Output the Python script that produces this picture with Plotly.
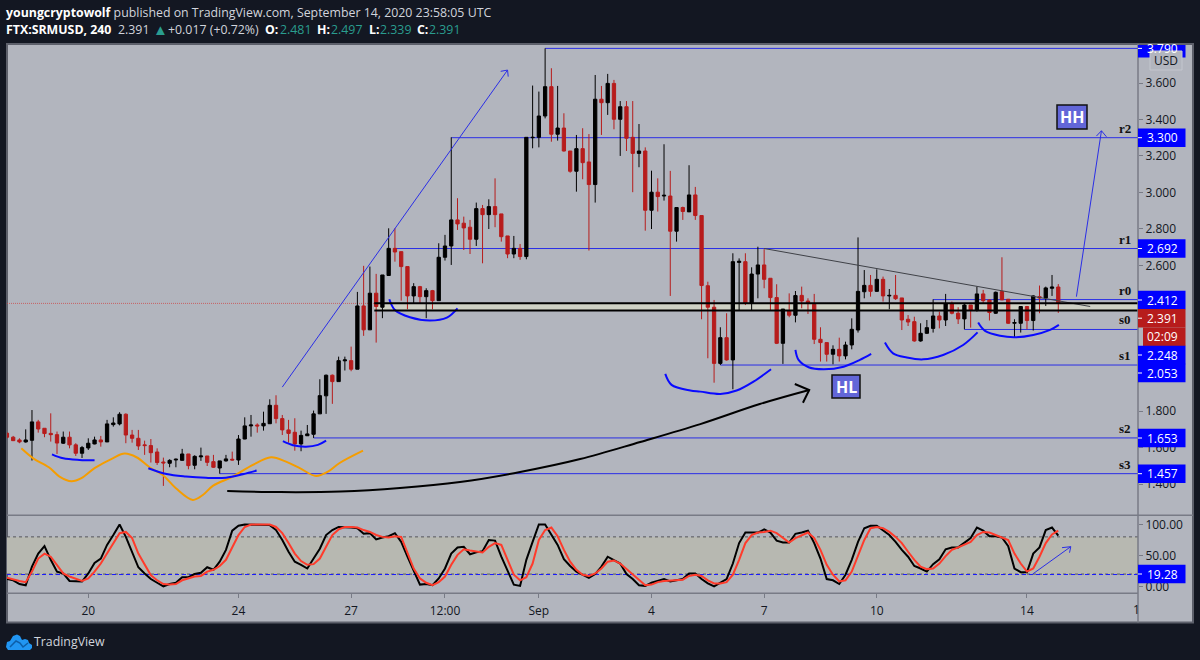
import pandas as pd
import plotly.graph_objects as go

# ---------- price data (4h candles, FTX:SRMUSD) ----------
opens = [
 1.679,1.657,1.642,1.631,1.640,1.741,1.706,1.678,1.671,1.624,
 1.657,1.615,1.569,1.598,1.620,1.642,1.631,1.726,1.730,1.783,
 1.669,1.651,1.615,1.611,1.576,1.521,1.514,1.532,1.530,1.565,
 1.503,1.549,1.554,1.523,1.488,1.527,1.536,1.532,1.647,1.719,
 1.724,1.719,1.731,1.832,1.759,1.697,1.684,1.620,1.665,1.673,
 1.785,1.884,1.997,1.962,2.076,2.077,2.030,2.377,2.246,2.447,
 2.370,2.544,2.693,2.675,2.593,2.432,2.483,2.428,2.461,2.406,
 2.644,2.706,2.849,2.831,2.809,2.743,2.911,2.878,2.922,2.882,
 2.761,2.662,2.693,2.648,3.300,3.302,3.419,3.580,3.319,3.353,
 3.227,3.116,3.240,3.167,3.043,3.511,3.492,3.598,3.401,3.470,
 3.302,3.214,3.227,2.902,3.001,2.980,2.980,2.787,2.917,2.893,
 2.986,2.873,2.488,2.370,2.062,2.203,2.081,2.616,2.620,2.391,
 2.552,2.602,2.529,2.423,2.172,2.351,2.326,2.435,2.404,2.386,
 2.194,2.176,2.112,2.139,2.103,2.163,2.245,2.455,2.490,2.457,
 2.523,2.432,2.435,2.421,2.304,2.291,2.185,2.227,2.254,2.322,
 2.300,2.388,2.337,2.306,2.382,2.352,2.443,2.410,2.337,2.456,
 2.414,2.282,2.282,2.374,2.297,2.428,2.421,2.474,2.481]
highs = [
 1.682,1.664,1.651,1.700,1.806,1.752,1.706,1.788,1.688,1.688,
 1.688,1.624,1.609,1.651,1.660,1.664,1.752,1.766,1.794,1.788,
 1.697,1.697,1.638,1.647,1.596,1.545,1.536,1.540,1.593,1.565,
 1.558,1.600,1.554,1.560,1.527,1.560,1.578,1.669,1.766,1.779,
 1.733,1.797,1.865,1.887,1.779,1.752,1.761,1.693,1.724,1.803,
 1.975,2.001,2.001,2.099,2.099,2.154,2.454,2.597,2.593,2.553,
 2.547,2.803,2.803,2.675,2.593,2.502,2.487,2.474,2.465,2.721,
 2.767,3.302,2.968,2.867,2.849,2.944,2.931,2.962,3.077,2.882,
 2.761,2.761,2.717,3.302,3.586,3.553,3.790,3.681,3.584,3.434,
 3.227,3.315,3.352,3.320,3.644,3.584,3.650,3.617,3.501,3.501,
 3.501,3.375,3.247,3.119,3.077,3.264,3.118,2.917,2.922,3.149,
 3.030,2.873,2.510,2.410,2.260,2.337,2.666,2.638,2.666,2.589,
 2.702,2.688,2.529,2.496,2.360,2.446,2.459,2.483,2.419,2.443,
 2.260,2.176,2.161,2.203,2.181,2.309,2.753,2.574,2.547,2.578,
 2.538,2.470,2.547,2.421,2.327,2.318,2.282,2.300,2.413,2.346,
 2.443,2.401,2.370,2.391,2.382,2.483,2.465,2.414,2.456,2.644,
 2.414,2.304,2.374,2.377,2.436,2.489,2.483,2.547,2.497]
lows = [
 1.651,1.636,1.624,1.627,1.529,1.682,1.657,1.633,1.565,1.620,
 1.596,1.554,1.543,1.587,1.618,1.605,1.631,1.715,1.722,1.624,
 1.627,1.587,1.560,1.518,1.505,1.390,1.492,1.492,1.529,1.481,
 1.481,1.527,1.499,1.488,1.457,1.523,1.530,1.505,1.646,1.660,
 1.682,1.693,1.730,1.733,1.669,1.627,1.583,1.580,1.664,1.653,
 1.785,1.785,1.840,1.962,2.023,2.019,2.030,2.213,2.246,2.176,
 2.310,2.542,2.620,2.406,2.359,2.392,2.392,2.310,2.359,2.406,
 2.626,2.602,2.794,2.684,2.662,2.706,2.611,2.799,2.809,2.730,
 2.639,2.639,2.630,2.633,3.242,3.247,3.406,3.278,3.284,3.224,
 3.108,3.004,3.072,2.681,2.944,3.315,3.425,3.346,3.200,3.227,
 3.001,3.138,2.790,2.799,2.895,2.955,2.432,2.730,2.849,2.893,
 2.849,2.304,2.090,1.956,2.053,2.077,1.920,2.355,2.382,2.355,
 2.419,2.474,2.355,2.168,2.059,2.315,2.287,2.364,2.333,2.168,
 2.072,2.072,2.057,2.072,2.084,2.139,2.231,2.419,2.428,2.455,
 2.401,2.359,2.410,2.245,2.267,2.181,2.181,2.223,2.231,2.254,
 2.267,2.331,2.278,2.249,2.258,2.346,2.388,2.297,2.333,2.410,
 2.278,2.205,2.231,2.249,2.242,2.337,2.377,2.432,2.339]
closes = [
 1.657,1.638,1.631,1.642,1.741,1.702,1.677,1.671,1.625,1.657,
 1.615,1.569,1.600,1.624,1.642,1.631,1.730,1.735,1.783,1.669,
 1.651,1.609,1.611,1.572,1.518,1.516,1.530,1.536,1.565,1.501,
 1.552,1.554,1.519,1.492,1.527,1.538,1.532,1.647,1.719,1.724,
 1.719,1.733,1.832,1.759,1.697,1.678,1.620,1.667,1.675,1.785,
 1.885,1.997,1.962,2.077,2.081,2.030,2.377,2.246,2.447,2.374,
 2.547,2.693,2.673,2.593,2.432,2.483,2.428,2.461,2.406,2.644,
 2.706,2.849,2.827,2.805,2.743,2.911,2.878,2.922,2.878,2.757,
 2.662,2.693,2.648,3.302,3.302,3.419,3.580,3.319,3.353,3.227,
 3.116,3.240,3.163,3.043,3.511,3.492,3.598,3.401,3.470,3.297,
 3.214,3.227,2.902,3.001,2.977,2.984,2.787,2.917,2.895,2.986,
 2.873,2.489,2.370,2.062,2.203,2.081,2.620,2.622,2.391,2.552,
 2.602,2.523,2.423,2.172,2.360,2.326,2.434,2.404,2.391,2.194,
 2.176,2.112,2.139,2.103,2.163,2.249,2.457,2.490,2.457,2.523,
 2.432,2.435,2.417,2.300,2.289,2.185,2.227,2.258,2.322,2.300,
 2.388,2.337,2.306,2.382,2.355,2.443,2.406,2.341,2.452,2.410,
 2.282,2.286,2.374,2.297,2.432,2.421,2.476,2.481,2.391]

# ---------- stochastic RSI ----------
stoch_k = [
 12,10,4,2,32,53,65,43,24,21, 9,9,8,21,38,45,67,83,100,80,
 56,31,21,12,6,0,4,6,15,15, 20,22,31,27,40,59,90,98,100,100,
 100,100,99,91,75,56,40,35,29,45, 61,83,91,96,96,95,94,85,86,76,
 79,81,86,72,48,24,3,4,2,13, 29,53,63,64,52,55,57,75,74,48,
 24,3,1,43,72,100,100,83,67,44, 33,24,19,14,20,32,48,43,37,20,
 12,2,1,6,9,12,8,10,12,21, 21,12,5,0,6,12,37,70,87,87,
 87,92,87,74,71,71,85,87,90,70, 45,12,10,4,19,43,72,94,98,98,
 91,83,72,59,48,33,29,24,36,44, 60,63,63,70,78,95,90,81,81,79,
 65,29,23,23,53,63,91,95,82]
stoch_d = [
 14,11,9,7,24,45,53,48,35,21, 16,12,9,13,24,37,53,70,86,88,
 78,53,35,18,10,4,3,4,10,13, 16,17,24,27,33,43,64,83,96,100,
 100,100,100,96,86,70,53,41,35,36, 45,64,83,92,96,96,95,91,88,83,
 80,79,81,80,56,29,13,6,2,7, 16,35,51,60,58,56,55,64,70,67,
 44,19,10,15,37,75,91,95,81,59, 40,27,19,17,21,29,40,42,37,28,
 20,10,2,3,7,9,10,10,11,17, 19,17,10,5,5,7,19,43,70,83,
 87,88,90,86,78,71,78,83,87,78, 59,35,19,8,10,24,48,75,94,96,
 94,88,80,70,56,43,32,28,29,37, 49,59,63,67,72,83,88,87,83,80,
 75,53,37,24,29,48,70,84,90]

# ---------- axis labels ----------
price_ticks = [3.6, 3.4, 3.2, 3.0, 2.8, 2.6, 1.8, 1.6, 1.4]
stoch_ticks = [100, 50, 0]
stoch_tick_text = ["100.00", "50.00", "0.00"]
time_ticks = ["2020-08-20", "2020-08-24", "2020-08-27", "2020-08-29 12:00",
              "2020-09-01", "2020-09-04", "2020-09-07", "2020-09-10", "2020-09-14"]
time_tick_text = ["20", "24", "27", "12:00", "Sep", "4", "7", "10", "14"]

# ---------- horizontal levels: value, first bar, letter ----------
level_values = [3.790, 3.300, 2.692, 2.412, 2.248, 2.053, 1.653, 1.457]
level_start = [86, 71, 62, 148, 153, 114, 49, 34]
level_letter = [None, "r2", "r1", "r0", "s0", "s1", "s2", "s3"]
band_top, band_bottom, band_start = 2.392, 2.352, 58.7
last_price = 2.391
stoch_level = 19.28

# ---------- hand drawings: (bar, value) ----------
orange_bar = [2.3,4.2,6.7,8.4,10.3,11.9,14.0,16.9,18.8,20.7,22.8,24.9,27.0,29.7,31.3,32.9,
              36.1,39.3,42.2,44.6,46.8,49.4,51.3,53.1,56.9]
orange_val = [1.596,1.541,1.492,1.441,1.415,1.432,1.487,1.541,1.567,1.547,1.492,1.450,1.377,
              1.313,1.340,1.390,1.441,1.505,1.547,1.523,1.487,1.444,1.468,1.514,1.583]
arcs = [
 ([7.2,9,11.6,14], [1.563,1.541,1.532,1.530]),
 ([22.6,25.5,28.6,31.8,35,37.7,39.9], [1.487,1.455,1.441,1.434,1.435,1.454,1.474]),
 ([44.1,45.7,47.8,49.7,51], [1.635,1.613,1.605,1.615,1.638]),
 ([61.1,62.0,64.4,67.6,70.3,72.0], [2.414,2.355,2.315,2.297,2.313,2.364]),
 ([105.2,106.2,109.2,110.8,114,116.6,119.3,122.1], [2.004,1.944,1.913,1.907,1.894,1.913,1.962,2.030]),
 ([126.0,126.5,128.1,130.5,133.7,136.3,138.1], [2.136,2.081,2.041,2.030,2.044,2.081,2.114]),
 ([140.3,141.6,143.8,146.4,149.6,152.8,155.1], [2.176,2.117,2.094,2.084,2.108,2.163,2.232]),
 ([155.2,156.3,158.7,161.1,164.0,166.7,168.1], [2.286,2.240,2.213,2.205,2.218,2.246,2.273]),
]
black_arc_bar = [35.2,43.7,53.3,62.8,72.4,82.0,91.6,101.2,110.8,120.3,128.2]
black_arc_val = [1.362,1.356,1.359,1.378,1.411,1.466,1.537,1.631,1.729,1.839,1.916]
black_head_bar = [125.9,128.2,127.2]
black_head_val = [1.949,1.916,1.846]
up_arrow_bar = [44, 80.0]
up_arrow_val = [1.932, 3.671]
up_head_bar = [78.9, 80.0, 80.1]
up_head_val = [3.664, 3.671, 3.635]
hh_arrow_bar = [170.9, 174.9]
hh_arrow_val = [2.428, 3.338]
hh_head_bar = [174.1, 174.9, 175.7]
hh_head_val = [3.309, 3.338, 3.305]
trend_bar = [121, 173.1]
trend_val = [2.692, 2.374]
stoch_arrow_bar = [163.9, 170.0]
stoch_arrow_val = [20, 64.2]
stoch_head_bar = [168.6, 170.0, 169.8]
stoch_head_val = [62.6, 64.2, 54.5]

# ---------- layout geometry (screen furniture) ----------
W, H = 1200, 660
PX_LEFT, PX_AXIS, PX_FRAME_R = 7, 1138, 1193
PY_TOP, PY_SPLIT, PY_LOW, PY_BOTTOM = 44, 515.3, 593.3, 622.5
BG, PANEL = "#131722", "#b2b5be"
BLUE, TAGBLUE, RED = "#2a2ee6", "#0000ff", "#b71c1c"
FONT = "Open Sans"

def X(px): return px / W
def Y(py): return 1 - py / H

START = pd.Timestamp("2020-08-17 20:00")
def T(bar): return (START + pd.Timedelta(hours=4 * bar)).strftime("%Y-%m-%d %H:%M:%S")
def TS(bars): return [T(b) for b in bars]

dates = TS(range(len(opens)))
x_range = [T(0.01), T(180.74)]

fig = go.Figure()

def line(bars, vals, color, width, shape="linear", xa="x", ya="y"):
    fig.add_trace(go.Scatter(x=TS(bars), y=vals, mode="lines", xaxis=xa, yaxis=ya,
                             line=dict(color=color, width=width, shape=shape, smoothing=1.0),
                             hoverinfo="skip", showlegend=False))

fig.add_trace(go.Candlestick(
    x=dates, open=opens, high=highs, low=lows, close=closes, xaxis="x", yaxis="y",
    increasing=dict(line=dict(color="#000000", width=1), fillcolor="#000000"),
    decreasing=dict(line=dict(color=RED, width=1), fillcolor=RED),
    name="SRMUSD", showlegend=False))

line(orange_bar, orange_val, "#f59d00", 2, "spline")
for ab, av in arcs:
    line(ab, av, "#0a0aff", 2, "spline")
line(black_arc_bar, black_arc_val, "#000000", 2, "spline")
line(black_head_bar, black_head_val, "#000000", 2)
line(up_arrow_bar, up_arrow_val, BLUE, 1)
line(up_head_bar, up_head_val, BLUE, 1)
line(hh_arrow_bar, hh_arrow_val, BLUE, 1)
line(hh_head_bar, hh_head_val, BLUE, 1)
line(trend_bar, trend_val, "#3f4147", 1)

fig.add_trace(go.Scatter(x=dates, y=stoch_k, mode="lines", xaxis="x2", yaxis="y2",
                         line=dict(color="#000000", width=2), showlegend=False, name="%K"))
fig.add_trace(go.Scatter(x=dates, y=stoch_d, mode="lines", xaxis="x2", yaxis="y2",
                         line=dict(color="#ff3b2b", width=2), showlegend=False, name="%D"))
line(stoch_arrow_bar, stoch_arrow_val, BLUE, 1, xa="x2", ya="y2")
line(stoch_head_bar, stoch_head_val, BLUE, 1, xa="x2", ya="y2")

shapes = []
def paper_rect(x0, y0, x1, y1, fill, border=None, bw=0, layer="below"):
    shapes.append(dict(type="rect", xref="paper", yref="paper", x0=X(x0), x1=X(x1), y0=Y(y0), y1=Y(y1),
                       fillcolor=fill, line=dict(color=border or fill, width=bw), layer=layer))
def paper_line(x0, y0, x1, y1, color, width, layer="above"):
    shapes.append(dict(type="line", xref="paper", yref="paper", x0=X(x0), x1=X(x1), y0=Y(y0), y1=Y(y1),
                       line=dict(color=color, width=width), layer=layer))

# panel + stoch band
paper_rect(PX_LEFT, PY_TOP, PX_FRAME_R, PY_BOTTOM, PANEL, "#5d606b", 2)
shapes.append(dict(type="rect", xref="x2", yref="y2", x0=x_range[0], x1=x_range[1], y0=20, y1=80,
                   fillcolor="#b7b8b1", line=dict(width=0), layer="below"))
shapes.append(dict(type="line", xref="x2", yref="y2", x0=x_range[0], x1=x_range[1], y0=80, y1=80,
                   line=dict(color="#55565c", width=1, dash="3px,3px"), layer="below"))
shapes.append(dict(type="line", xref="x2", yref="y2", x0=x_range[0], x1=x_range[1], y0=20, y1=20,
                   line=dict(color="#55565c", width=1, dash="3px,3px"), layer="below"))
shapes.append(dict(type="line", xref="x2", yref="y2", x0=x_range[0], x1=x_range[1], y0=stoch_level, y1=stoch_level,
                   line=dict(color="#1a1aff", width=1, dash="4px,3px"), layer="below"))

# levels
for v, b in zip(level_values, level_start):
    shapes.append(dict(type="line", xref="x", yref="y", x0=T(b), x1=x_range[1], y0=v, y1=v,
                       line=dict(color=BLUE, width=1), layer="below"))
# band between the black lines
shapes.append(dict(type="rect", xref="x", yref="y", x0=T(band_start), x1=x_range[1], y0=band_bottom, y1=band_top,
                   fillcolor="#cfd1c5", line=dict(width=0), layer="below"))
shapes.append(dict(type="line", xref="x", yref="y", x0=x_range[0], x1=x_range[1], y0=last_price, y1=last_price,
                   line=dict(color="rgba(205,70,70,0.75)", width=1, dash="1px,1px"), layer="below"))
for v in (band_top, band_bottom):
    shapes.append(dict(type="line", xref="x", yref="y", x0=T(band_start), x1=x_range[1], y0=v, y1=v,
                       line=dict(color="#000000", width=2), layer="above"))

# panel separators and price axis line
paper_line(PX_LEFT, PY_SPLIT, PX_FRAME_R, PY_SPLIT, "#787b86", 1.5)
paper_line(PX_LEFT, PY_LOW, PX_AXIS, PY_LOW, "#787b86", 1.5)
paper_line(PX_AXIS, PY_TOP, PX_AXIS, PY_BOTTOM, "#787b86", 1.5)

# price tags: text, centre y, colour, left x
tag_text = ["3.790", "3.300", "2.692", "2.412", "2.391", "02:09", "2.248", "2.053", "1.653", "1.457", "19.28"]
tag_y = [48.4, 137.7, 248.5, 300, 318.2, 336.8, 355, 373, 438, 473.7, 574]
tag_col = [TAGBLUE, TAGBLUE, TAGBLUE, TAGBLUE, RED, RED, TAGBLUE, TAGBLUE, TAGBLUE, TAGBLUE, TAGBLUE]
tag_left = [1138, 1138, 1138, 1138, 1138, 1143, 1138, 1138, 1138, 1138, 1138]
annotations = []
def note(text, px, py, size=12, color="#131722", anchor="center", family=FONT, **kw):
    annotations.append(dict(text=text, xref="paper", yref="paper", x=X(px - (2 if anchor == "left" else 0)), y=Y(py),
                            showarrow=False, xanchor=anchor, yanchor="middle",
                            align="left" if anchor == "left" else "center",
                            font=dict(size=size, color=color, family=family), **kw))

for t, y, c, l in zip(tag_text, tag_y, tag_col, tag_left):
    top = max(y - 9.2, PY_TOP + 1)
    paper_rect(l, top, 1185.5, y + 9.2, c, layer="above")
    if t != "02:09":
        paper_line(1138, y, 1142, y, "#ffffff", 1)
    note(t, 1162, y, 12, "#ffffff")

# USD button, drawn over the top tag
shapes.append(dict(type="path", xref="paper", yref="paper", layer="above",
                   path="M {} {} L {} {} L {} {} L {} {} Z".format(X(1150), Y(51), X(1182), Y(51), X(1182), Y(70), X(1150), Y(70)),
                   fillcolor=PANEL, line=dict(color="#c3c6ce", width=1)))
note("USD", 1166, 60.5, 12)
paper_rect(1135, 37, 1190, 43, BG, layer="above")

# letters above levels
for v, s in zip(level_values, level_letter):
    if s:
        annotations.append(dict(text="<b>%s</b>" % s, xref="paper", yref="y", x=X(1125), y=v, yshift=9.5,
                                xanchor="center", yanchor="middle", showarrow=False,
                                font=dict(size=13, color="#111111", family="Liberation Serif")))

# HH / HL boxes
for txt, cx, cy, w, h in (("HH", 1072, 117, 30, 24), ("HL", 846, 386.5, 28, 23)):
    paper_rect(cx - w / 2, cy - h / 2, cx + w / 2, cy + h / 2, "#6266d8", "#111111", 1.5, layer="above")
    note("<b>%s</b>" % txt, cx, cy, 16, "#ffffff")

# clipped tick label for the 17th
note("1", 1136, 609, 12)

# header
TEAL = "#2a9d8f"
HEAD = 12.35
note('<b><span style="color:#ffffff">youngcryptowolf</span></b> published on TradingView.com, September 14, 2020 23:58:05 UTC',
     6, 12.5, HEAD, "#d1d4dc", "left")
row2_text = ["<b>FTX:SRMUSD, 240</b>", "2.391", "▲", "+0.017 (+0.72%)", "<b>O:</b>", "2.481", "<b>H:</b>", "2.497",
             "<b>L:</b>", "2.339", "<b>C:</b>", "2.391"]
row2_x = [6, 118, 153, 168, 265, 280, 317, 331, 369, 380, 417, 429]
row2_col = ["#ffffff", "#d1d4dc", TEAL, "#d1d4dc", "#ffffff", TEAL, "#ffffff", TEAL, "#ffffff", TEAL, "#ffffff", TEAL]
for t, x0, c in zip(row2_text, row2_x, row2_col):
    note(t, x0, 29.5, 15 if t == "▲" else HEAD, c, "left")

# footer logo
note("TradingView", 34, 641.5, 12.35, "#d1d4dc", "left")
logo = [(6, 647), (7, 642), (10, 641), (13, 636), (17, 634.5), (20, 636), (22, 640), (25, 639), (28, 640),
        (29, 643), (32, 645), (32, 648), (30, 650), (8, 650)]
shapes.append(dict(type="path", xref="paper", yref="paper", layer="above", fillcolor="#2196f3", line=dict(width=0),
                   path="M " + " L ".join("%f %f" % (X(a), Y(b)) for a, b in logo) + " Z"))
zig = [(10, 647), (16, 641), (20, 643), (23, 647), (28, 643)]
shapes.append(dict(type="path", xref="paper", yref="paper", layer="above", line=dict(color="#0d5ea8", width=1.5),
                   path="M " + " L ".join("%f %f" % (X(a), Y(b)) for a, b in zig)))

fig.update_layout(
    width=W, height=H, margin=dict(l=0, r=0, t=0, b=0), autosize=False,
    paper_bgcolor=BG, plot_bgcolor="rgba(0,0,0,0)", showlegend=False, boxgap=0.25,
    hovermode=False, shapes=shapes, annotations=annotations,
    font=dict(family=FONT, size=12, color="#131722"),
    xaxis=dict(domain=[X(PX_LEFT), X(PX_AXIS)], type="date", range=x_range, anchor="y", showgrid=False,
               showticklabels=False, ticks="", zeroline=False, rangeslider=dict(visible=False), showline=False),
    yaxis=dict(domain=[Y(PY_SPLIT), Y(PY_TOP)], range=[1.2286, 3.814], side="right", anchor="x", showgrid=False,
               zeroline=False, tickvals=price_ticks, ticktext=["%.3f" % v for v in price_ticks], ticks="outside",
               ticklen=4, tickcolor="#787b86", tickfont=dict(size=12, color="#131722"), showline=False),
    xaxis2=dict(domain=[X(PX_LEFT), X(PX_AXIS)], type="date", range=x_range, anchor="y2", showgrid=False,
                zeroline=False, tickvals=time_ticks, ticktext=time_tick_text, ticks="outside", ticklen=4,
                ticklabelstandoff=2, tickcolor="#787b86", tickfont=dict(size=12, color="#131722"), showline=False),
    yaxis2=dict(domain=[Y(PY_LOW), Y(PY_SPLIT)], range=[-11, 114.8], side="right", anchor="x2", showgrid=False,
                zeroline=False, tickvals=stoch_ticks, ticktext=stoch_tick_text, ticks="outside", ticklen=4,
                tickcolor="#787b86", tickfont=dict(size=12, color="#131722"), showline=False),
)

fig.write_html("out.html", config=dict(displayModeBar=False),
               post_script="document.body.style.margin='0';document.body.style.overflow='hidden';")
